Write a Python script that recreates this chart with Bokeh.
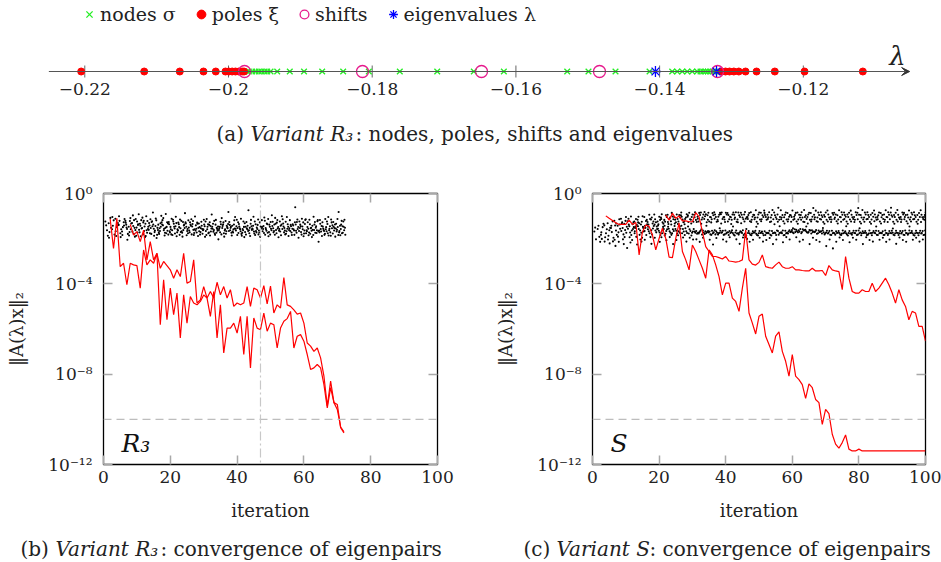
from bokeh.plotting import figure
from bokeh.layouts import column, row
from bokeh.models import (Range1d, FixedTicker, LinearAxis, LogAxis, Span, Label,
                          Legend, LegendItem, Arrow, VeeHead, CustomJSTickFormatter)
from bokeh.core.properties import value
from bokeh.embed import file_html
from bokeh.resources import INLINE

FONT = "DejaVu Serif"

# ---------------- (a) nodes, poles, shifts, eigenvalues on the real line ----------------
nodes = [-0.19777, -0.19740, -0.19717, -0.19670, -0.19624, -0.19578, -0.19541, -0.19499,
         -0.19461, -0.19415, -0.19322, -0.19147, -0.18949, -0.18696, -0.18404, -0.18047,
         -0.17616, -0.17095, -0.16586, -0.16168, -0.15286, -0.14990, -0.14614, -0.14140,
         -0.13825, -0.13755, -0.13685, -0.13616, -0.13546, -0.13477, -0.13431, -0.13393,
         -0.13361, -0.13329, -0.13292, -0.13254, -0.13222]
poles = [-0.22050, -0.21173, -0.20678, -0.20348, -0.20177, -0.20042, -0.19996, -0.19949,
         -0.19903, -0.19857, -0.19809, -0.19784,
         -0.13143, -0.13083, -0.13027, -0.12967, -0.12898, -0.12804, -0.12651, -0.12397,
         -0.11983, -0.11172]
shifts = [-0.19777, -0.18135, -0.16479, -0.14837, -0.13194]
eigenvalues = [-0.14058, -0.13208]
lam_ticks = [-0.22, -0.20, -0.18, -0.16, -0.14, -0.12]
lam_tick_labels = ["\u22120.22", "\u22120.2", "\u22120.18", "\u22120.16", "\u22120.14", "\u22120.12"]

# ---------------- (b), (c) residual histories ----------------
iter_ticks = [0, 20, 40, 60, 80, 100]
res_ticks = [1e-12, 1e-8, 1e-4, 1.0]
tolerance = 1e-10
restart_iteration_R3 = 47

# variant R3: two converging eigenpairs (log10 of residual)
r3_a_iter = list(range(2, 73))
r3_a_log10 = [-1.13, -2.43, -1.10, -3.24, -3.09, -4.04, -3.09, -3.16, -3.19, -4.19,
              -2.50, -3.16, -2.94, -3.09, -2.65, -5.81, -3.82, -5.59, -4.19, -5.37,
              -4.41, -6.40, -4.49, -5.74, -4.56, -4.85, -4.93, -4.78, -4.49, -4.63,
              -5.44, -4.34, -6.40, -4.93, -7.06, -5.96, -5.96, -5.74, -6.18, -5.44,
              -7.13, -5.44, -7.72, -5.51, -5.96, -6.03, -5.30, -6.10, -5.74, -5.81,
              -6.84, -5.96, -5.66, -5.54, -5.22, -6.84, -6.32, -6.25, -6.54, -7.13,
              -7.79, -7.72, -7.57, -7.72, -8.46, -9.49, -8.60, -9.26, -9.56, -10.34,
              -10.55]
r3_b_iter = list(range(8, 73))
r3_b_log10 = [-1.37, -1.84, -1.69, -2.13, -1.62, -2.94, -2.13, -2.94, -2.65, -3.31,
              -3.01, -3.19, -3.38, -3.75, -3.38, -3.68, -2.65, -3.97, -3.90, -2.94,
              -4.85, -4.71, -4.12, -4.63, -4.34, -4.63, -3.93, -4.49, -4.12, -4.63,
              -4.26, -5.00, -4.85, -4.93, -4.85, -4.12, -5.00, -4.19, -4.26, -4.63,
              -4.08, -4.89, -4.10, -5.29, -4.93, -5.07, -3.72, -4.93, -5.00, -5.15,
              -5.34, -5.29, -5.74, -6.62, -6.76, -6.99, -6.84, -7.28, -8.09, -9.41,
              -8.31, -9.26, -9.34, -10.37, -10.60]

# variant S: two eigenpairs
s_a_iter = list(range(4, 82)) + [100]
s_a_log10 = [-0.99, -1.10, -1.20, -1.30, -1.37, -1.37, -1.37, -1.18, -1.37, -1.28,
             -2.72, -1.69, -1.40, -1.45, -1.84, -2.50, -1.99, -1.54, -1.99, -2.82,
             -2.84, -1.99, -1.30, -2.57, -2.94, -3.38, -2.28, -2.57, -2.94, -3.31,
             -3.75, -2.50, -2.72, -3.16, -3.68, -4.49, -3.97, -3.97, -4.63, -4.78,
             -5.22, -4.19, -3.31, -5.29, -5.74, -6.22, -5.44, -5.34, -6.32, -6.69,
             -7.06, -6.32, -6.13, -6.99, -7.43, -8.09, -7.13, -8.09, -8.24, -8.46,
             -9.07, -8.43, -8.60, -9.12, -9.26, -10.22, -9.56, -9.75, -10.66, -11.10,
             -11.28, -11.03, -10.69, -11.32, -11.40, -11.40, -11.32, -11.40, -11.40]
s_b_iter = list(range(22, 101))
s_b_log10 = [-0.96, -1.18, -0.88, -1.10, -1.00, -1.21, -1.21, -1.25, -1.25, -0.85,
             -1.03, -1.69, -2.35, -2.57, -2.79, -2.79, -2.84, -2.90, -2.79, -2.99,
             -3.01, -3.04, -3.01, -2.94, -1.62, -2.94, -3.13, -3.17, -3.05, -2.72,
             -3.24, -3.28, -3.31, -3.16, -3.04, -3.24, -3.31, -3.31, -3.24, -3.38,
             -3.38, -3.41, -3.43, -3.43, -3.31, -3.43, -3.43, -3.41, -3.63, -3.19,
             -3.38, -3.43, -3.46, -4.26, -2.79, -3.75, -4.34, -4.41, -4.41, -4.26,
             -4.34, -4.34, -3.97, -4.34, -4.19, -3.97, -3.75, -4.04, -4.41, -4.85,
             -4.26, -4.71, -5.00, -5.59, -5.22, -5.29, -5.88, -5.88, -6.54]

# residuals of the remaining Ritz pairs, one row per iteration: -100*log10(residual)
r3_ritz_first_iter = 1
r3_ritz_hundredths = [
    "124 163 141 187", "132 108 171 152 196", "158 119 143 182 104", "112 149 188 131 167 143",
    "139 176 121 158 101 193", "168 127 149 113 184 142", "121 157 138 179 129 205 151",
    "147 109 171 133 186 158 122", "131 178 97 152 169 118 144 191",
    "162 124 187 139 113 173 151 136", "92 143 172 118 161 189 134 155",
    "153 121 181 146 107 166 128 194", "134 174 101 157 188 122 163 147",
    "161 114 142 179 131 153 176 126", "123 156 84 171 145 187 137 164",
    "144 183 119 162 111 152 197 138", "172 132 154 99 179 147 166 127",
    "137 163 141 186 118 156 109 174", "152 127 176 133 91 165 148 182",
    "126 148 167 181 136 158 173 112", "163 134 116 155 184 147 124 177",
    "145 172 131 164 103 159 189 129", "136 154 183 121 149 171 115 167",
    "174 142 126 153 191 138 162 87", "128 166 147 176 133 157 185 119",
    "151 137 172 114 164 143 127 181", "146 184 122 158 135 175 161 102",
    "164 129 156 188 141 134 173 152", "133 171 149 125 167 154 182 143",
    "157 116 163 145 178 137 159 192", "124 158 184 136 166 147 113 176",
    "173 144 127 155 139 168 186 93", "147 162 134 177 156 121 169 183",
    "138 157 174 146 117 165 152 203", "162 125 148 181 155 136 172 109",
    "153 176 137 164 144 191 128 158", "122 149 167 135 178 154 143 82",
    "166 152 139 174 126 147 163 186", "143 137 173 155 168 119 159 104",
    "156 184 145 127 164 153 116 175", "135 167 154 179 146 112 158 187",
    "174 148 163 132 157 193 124 171", "147 158 126 166 182 143 154 74",
    "163 134 152 145 176 117 188 161", "155 168 143 124 159 177 103 184",
    "136 157 172 115 166 139 151 181", "164 146 128 155 173 149 192 118",
    "148 175 157 121 167 106 144 183", "153 136 165 113 158 174 133 189",
    "171 126 147 163 138 156 182 96", "144 166 154 183 125 137 172 108",
    "134 117 176 148 162 155 129 194", "165 143 124 138 157 185 168 101",
    "157 172 133 164 114 153 146 181", "125 156 167 147 178 136 104 188",
    "162 139 118 173 154 145 166 184", "156 164 142 127 136 183 158 61",
    "137 115 174 148 165 157 126 196", "166 145 153 182 124 171 138 112",
    "146 177 128 135 158 164 189 117", "114 148 163 156 176 127 167 185",
    "173 154 136 165 116 152 178 193", "143 162 184 126 161 137 103 174",
    "152 123 175 166 145 118 163 214", "164 157 117 144 172 168 134 188",
    "127 166 155 178 146 183 162 113", "158 135 167 104 149 176 124 186",
    "163 187 145 128 156 115 172 154", "141 164 126 137 177 153 147 191",
    "155 113 168 184 134 148 161 82", "172 157 143 121 166 138 185 176",
    "145 163 124 152 174 116 147 183",
]
s_ritz_first_iter = 1
s_ritz_hundredths = [
    "168 203 151", "157 192 143 214", "183 149 201 134 172", "141 176 194 158 213",
    "132 163 187 152 204 221", "153 124 171 196 143 212", "121 164 142 183 205 133 232",
    "143 114 172 156 191 137 214", "112 153 134 181 166 203 127 224",
    "134 104 162 147 193 174 121 241", "123 145 112 173 156 194 138 217",
    "102 136 164 127 184 157 206 149", "124 113 153 139 176 192 146 226 167",
    "116 132 103 164 145 183 157 204 128", "137 101 125 154 174 148 196 168 213",
    "104 122 143 117 166 184 152 136 205", "126 94 137 113 158 176 167 193 147",
    "115 133 106 124 163 155 182 144 223", "93 127 114 146 138 172 164 157 196",
    "124 103 136 117 156 173 165 184 142 214", "106 128 92 134 113 164 176 157 194 148",
    "117 96 125 104 143 166 178 158 186 207", "94 113 135 107 126 167 156 174 147 193",
    "123 102 86 114 137 158 176 166 183 224", "104 127 116 93 144 165 157 177 133 206",
    "113 95 124 106 135 174 167 156 185 146", "96 115 103 127 84 157 176 168 143 195",
    "124 106 113 92 136 167 154 175 184 213", "103 85 126 114 97 158 177 166 146 196",
    "116 93 104 125 133 168 174 157 186 204", "94 117 83 126 105 166 174 178 169 203",
    "103 86 124 95 112 171 177 165 174 214", "84 106 115 93 134 164 182 173 158 196",
    "113 92 101 127 82 175 167 171 179 143", "96 124 85 104 116 168 173 181 166 205",
    "105 87 114 96 128 176 165 172 183 226", "83 104 93 125 112 167 181 174 163 197",
    "116 94 103 86 123 174 176 165 182 154", "92 113 84 105 133 165 172 183 174 204",
    "104 85 126 93 115 177 164 173 181 213", "86 114 95 103 124 166 184 175 172 194",
    "105 93 116 84 135 175 163 182 171 146", "94 83 106 125 113 164 173 177 186 203",
    "115 96 84 104 127 174 182 167 176 223", "85 106 94 114 132 163 175 184 171 195",
    "93 112 82 105 124 186 193 201 178 157", "104 86 95 123 113 176 166 183 175 214",
    "83 103 116 94 126 167 177 174 185 205", "95 74 106 125 114 178 165 184 172 147",
    "106 84 93 115 134 166 176 175 186 196", "85 96 114 104 123 177 168 185 174 213",
    "75 104 95 116 86 174 184 176 167 206", "94 83 105 126 113 165 176 183 174 197",
    "106 73 95 114 124 176 166 175 186 224", "84 105 96 113 136 184 175 164 173 204",
    "93 116 63 104 125 175 183 174 166 145", "74 95 106 123 114 164 176 185 172 216",
    "105 84 94 115 133 176 165 174 184 193", "86 103 114 95 124 163 168 171 177 204",
    "96 75 104 116 125 172 162 176 169 154", "103 86 95 124 113 161 171 167 158 194",
    "84 94 115 106 134 169 163 157 172 213", "95 106 83 125 116 158 171 164 176 205",
    "73 96 104 113 126 167 161 172 163 146", "104 85 93 116 133 162 171 164 174 224",
    "86 103 115 64 124 171 163 168 177 196", "94 76 105 123 114 162 168 178 171 206",
    "106 95 84 113 125 171 164 169 176 214", "83 104 96 126 115 163 177 172 167 153",
    "95 84 103 116 134 173 176 165 181 233", "75 106 93 114 124 166 174 183 177 204",
    "104 86 115 94 126 176 165 174 184 243", "85 93 106 123 113 167 183 175 176 214",
    "96 74 115 104 133 175 166 182 174 195", "105 94 83 116 125 164 177 176 184 206",
    "84 103 95 124 113 176 167 181 173 145", "93 85 104 115 134 166 175 177 186 216",
    "76 105 94 113 124 174 183 165 176 196", "104 83 116 95 126 165 176 184 175 205",
    "85 94 64 125 114 176 164 173 182 154", "95 73 106 115 133 167 176 175 185 224",
    "106 93 84 114 125 175 166 184 174 194", "83 104 95 126 113 164 177 176 183 206",
    "94 86 115 103 134 174 185 166 175 213", "75 106 93 116 123 165 176 183 174 146",
    "104 84 96 124 114 176 166 174 184 205", "86 95 105 113 133 167 175 184 176 196",
    "93 74 116 104 125 175 164 176 183 214", "105 94 83 114 126 166 177 175 184 204",
    "84 103 96 125 63 174 165 183 176 155", "95 85 104 116 134 165 176 174 185 223",
    "73 106 94 113 124 176 184 166 175 195", "104 84 115 93 126 166 174 183 177 206",
    "86 95 104 123 114 175 164 176 184 214", "94 75 106 115 133 164 177 175 183 146",
    "105 93 85 114 124 176 166 184 174 205", "83 104 96 125 113 165 176 174 186 196",
    "95 86 116 104 134 174 185 165 176 213", "74 105 94 113 126 166 175 184 177 204",
    "104 84 95 124 116 175 164 176 183 154",
]

# sub-figure captions (plain / italic pieces)
caption_plain = ["(b)", ": convergence of eigenpairs", "(c)", ": convergence of eigenpairs"]
caption_italic = ["Variant R\u2083", "Variant S"]

# ====================================================================================
# Top strip
top = figure(width=941, height=160, x_range=Range1d(-0.23173, -0.10077),
             y_range=Range1d(-89, 71), output_backend="svg", toolbar_location=None,
             x_axis_location=None, y_axis_location=None, min_border=0)
top.outline_line_color = None
top.grid.visible = False

top.add_layout(Arrow(x_start=-0.2250, y_start=0, x_end=-0.1052, y_end=0,
                     line_color="#555555", line_width=1.2,
                     end=VeeHead(size=8, fill_color="#333333", line_color="#333333")))
top.segment(x0=lam_ticks, y0=-6, x1=lam_ticks, y1=6, line_color="#666666", line_width=1)
top.text(x=lam_ticks, y=-17, text=lam_tick_labels, text_font=value(FONT),
         text_font_size="17px", text_align="center", text_baseline="middle", text_color="#222222")

r_nodes = top.scatter(x=nodes, y=0, marker="x", size=8, line_color="#22ee22", line_width=1.3)
r_poles = top.scatter(x=poles, y=0, marker="circle", size=7, fill_color="#ff0000", line_color="#ff0000")
r_shifts = top.scatter(x=shifts, y=0, marker="circle", size=12, fill_color=None,
                       line_color="#e6198c", line_width=1.3)
r_eigs = top.scatter(x=eigenvalues, y=0, marker="asterisk", size=11, line_color="#0000ff", line_width=1.3)

legend = Legend(items=[LegendItem(label="nodes \u03c3", renderers=[r_nodes]),
                       LegendItem(label="poles \u03be", renderers=[r_poles]),
                       LegendItem(label="shifts", renderers=[r_shifts]),
                       LegendItem(label="eigenvalues \u03bb", renderers=[r_eigs])],
                orientation="horizontal", location=(78, 134),
                label_text_font=FONT, label_text_font_size="19px", label_text_color="#222222",
                glyph_width=22, glyph_height=24, label_standoff=0, spacing=14,
                padding=0, margin=0, border_line_color=None, background_fill_alpha=0)
top.add_layout(legend)

top.add_layout(Label(x=-0.1069, y=16, text="\u03bb", text_font=FONT, text_font_style="italic",
                     text_font_size="26px", text_align="center", text_baseline="middle",
                     text_color="#222222"))

for x, txt, style in [(-0.20167, "(a)", "normal"), (-0.19694, "Variant R\u2083", "italic"),
                      (-0.18233, ": nodes, poles, shifts and eigenvalues", "normal")]:
    top.add_layout(Label(x=x, y=-62, text=txt, text_font=FONT, text_font_style=style,
                         text_font_size="20px", text_align="left", text_baseline="middle",
                         text_color="#222222"))


# ====================================================================================
def style_axis(ax, labels=True):
    ax.axis_line_color = None
    ax.major_tick_in = 9
    ax.major_tick_out = 0
    ax.major_tick_line_color = "#a8a8a8"
    ax.major_tick_line_width = 1.5
    ax.minor_tick_line_color = None
    ax.major_label_text_font = FONT
    ax.major_label_text_color = "#222222"
    ax.major_label_text_font_size = "17px"
    if not labels:
        ax.formatter = CustomJSTickFormatter(code="return '';")
        ax.major_label_standoff = 0


sup_formatter = CustomJSTickFormatter(code="""
const e = Math.round(Math.log10(tick));
const m = {'0':'\u2070','1':'\u00b9','2':'\u00b2','3':'\u00b3','4':'\u2074','5':'\u2075',
           '6':'\u2076','7':'\u2077','8':'\u2078','9':'\u2079','-':'\u207b'};
return '10' + String(e).split('').map(c => m[c]).join('');
""")

SPREAD = [0.05, 0.55, 0.3, 0.8, 0.15, 0.65, 0.4, 0.9, 0.2, 0.7]


def cloud(rows, first):
    xs, ys = [], []
    for i, r in enumerate(rows):
        for j, t in enumerate(r.split()):
            xs.append(first + i - 0.5 + SPREAD[j % len(SPREAD)])
            ys.append(10 ** (-int(t) / 100))
    return xs, ys


def panel(width, left_border, right_border, rows, first, curves, tag):
    p = figure(width=width, height=368, x_range=Range1d(0, 100), y_range=Range1d(1e-12, 1.0),
               y_axis_type="log", output_backend="svg", toolbar_location=None,
               min_border_left=left_border, min_border_right=right_border,
               min_border_top=33, min_border_bottom=64)
    p.grid.visible = False
    p.outline_line_color = "black"
    p.outline_line_width = 1.3
    p.xaxis.ticker = FixedTicker(ticks=iter_ticks)
    p.yaxis.ticker = FixedTicker(ticks=res_ticks)
    p.yaxis.formatter = sup_formatter
    style_axis(p.xaxis[0])
    style_axis(p.yaxis[0])
    p.xaxis.major_label_standoff = 6
    p.yaxis.major_label_standoff = 11
    p.xaxis.axis_label = "iteration"
    p.yaxis.axis_label = "\u2016A(\u03bb)x\u2016\u2082"
    for ax in (p.xaxis[0], p.yaxis[0]):
        ax.axis_label_text_font = FONT
        ax.axis_label_text_font_size = "18px"
        ax.axis_label_text_font_style = "normal"
        ax.axis_label_text_color = "#222222"
    p.xaxis.axis_label_standoff = 14
    p.yaxis.axis_label_standoff = 18
    ax_top = LinearAxis(ticker=FixedTicker(ticks=iter_ticks))
    style_axis(ax_top, labels=False)
    p.add_layout(ax_top, "above")
    ax_right = LogAxis(ticker=FixedTicker(ticks=res_ticks))
    style_axis(ax_right, labels=False)
    p.add_layout(ax_right, "right")

    p.add_layout(Span(location=tolerance, dimension="width", line_color="#bdbdbd",
                      line_dash="8 5", line_width=1.2))
    xs, ys = cloud(rows, first)
    p.scatter(x=xs, y=ys, marker="circle", size=2.1, fill_color="black", line_color=None)
    for it, lg in curves:
        p.line(x=it, y=[10 ** v for v in lg], line_color="#ff0000", line_width=1.2)
    p.add_layout(Label(x=5.4, y=10 ** -11.05, text=tag, text_font=FONT, text_font_style="italic",
                       text_font_size="25px", text_baseline="middle", text_color="#111111"))
    return p


left = panel(470, 103, 33, r3_ritz_hundredths, r3_ritz_first_iter,
             [(r3_a_iter, r3_a_log10), (r3_b_iter, r3_b_log10)], "R\u2083")
left.add_layout(Span(location=restart_iteration_R3, dimension="height", line_color="#c8c8c8",
                     line_dash="9 3 2 3", line_width=1.2))

right = panel(471, 122, 16, s_ritz_hundredths, s_ritz_first_iter,
              [(s_a_iter, s_a_log10), (s_b_iter, s_b_log10)], "S")

# caption strip (data units = pixels across the page)
cap = figure(width=941, height=34, x_range=Range1d(0, 941), y_range=Range1d(562, 528),
             output_backend="svg", toolbar_location=None, x_axis_location=None,
             y_axis_location=None, min_border=0)
cap.outline_line_color = None
cap.grid.visible = False
cap.text(x=[20, 160, 523, 649], y=548, text=caption_plain, text_font=value(FONT),
         text_font_size="20px", text_align="left", text_baseline="middle", text_color="#222222")
cap.text(x=[55, 556], y=548, text=caption_italic, text_font=value(FONT), text_font_style="italic",
         text_font_size="20px", text_align="left", text_baseline="middle", text_color="#222222")

layout = column(top, row(left, right), cap)
open("out.html", "w").write(file_html(layout, INLINE))
